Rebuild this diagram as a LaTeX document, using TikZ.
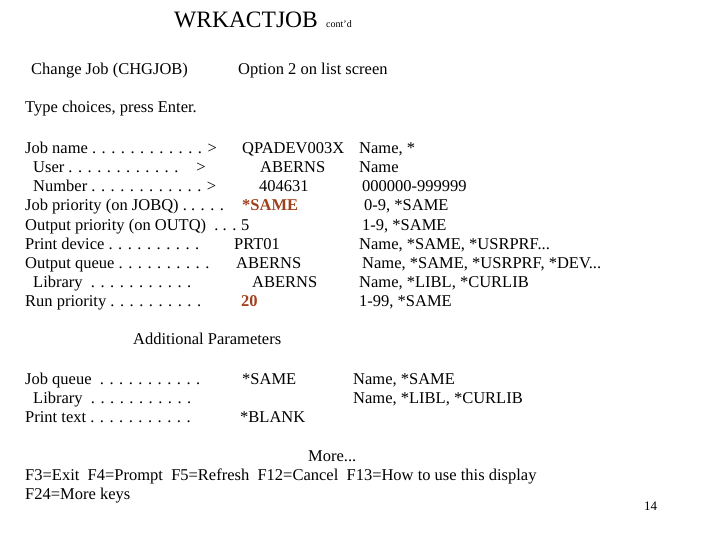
\documentclass[tikz,border=0pt]{standalone}
\usepackage{fontspec}
\setmainfont{Liberation Serif}
\definecolor{hl}{HTML}{A0401C}
\begin{document}
\begin{tikzpicture}[x=1pt,y=-1pt,
  t/.style={anchor=base west,inner sep=0pt,font=\fontsize{16.5}{18}\selectfont},
  h/.style={t,text=hl,font=\fontsize{16.5}{18}\selectfont\bfseries}]
\useasboundingbox (0,0) rectangle (720,540);
\node[t,font=\fontsize{23.5}{26}\selectfont] (title) at (174,28) {WRKACTJOB};
\node[t,font=\fontsize{10}{11}\selectfont] (cont) at (326,28) {cont'd};
\node[t] (a1) at (31,75) {Change Job (CHGJOB)};
\node[t] (a2) at (238,75) {Option 2 on list screen};
\node[t] (a3) at (25,113) {Type choices, press Enter.};
% column 1
\node[t] (l1) at (25,154) {Job name . . . . . . . . . . . . >};
\node[t] (l2) at (33,173) {User . . . . . . . . . . . . \ \ \ >};
\node[t] (l3) at (33,192) {Number . . . . . . . . . . . . >};
\node[t] (l4) at (25,211) {Job priority (on JOBQ) . . . . .};
\node[t] (l5) at (25,230) {Output priority (on OUTQ) \ . . .};
\node[t] (l6) at (25,249) {Print device . . . . . . . . . .};
\node[t] (l7) at (25,268) {Output queue . . . . . . . . . .};
\node[t] (l8) at (33,287) {Library \ . . . . . . . . . . .};
\node[t] (l9) at (25,306) {Run priority . . . . . . . . . .};
% column 2
\node[t] (v1) at (242,154) {QPADEV003X};
\node[t] (v2) at (260,173) {ABERNS};
\node[t] (v3) at (259,192) {404631};
\node[h] (v4) at (242,211) {*SAME};
\node[t] (v5) at (241,230) {5};
\node[t] (v6) at (234,249) {PRT01};
\node[t] (v7) at (236,268) {ABERNS};
\node[t] (v8) at (252,287) {ABERNS};
\node[h] (v9) at (241,306) {20};
% column 3
\node[t] (c1) at (359,154) {Name, *};
\node[t] (c2) at (359,173) {Name};
\node[t] (c3) at (362,192) {000000-999999};
\node[t] (c4) at (364,211) {0-9, *SAME};
\node[t] (c5) at (362,230) {1-9, *SAME};
\node[t] (c6) at (359,249) {Name, *SAME, *USRPRF...};
\node[t] (c7) at (362,268) {Name, *SAME, *USRPRF, *DEV...};
\node[t] (c8) at (359,287) {Name, *LIBL, *CURLIB};
\node[t] (c9) at (359,306) {1-99, *SAME};
\node[t] (ap) at (133,344) {Additional Parameters};
\node[t] (b1) at (25,384) {Job queue \ . . . . . . . . . . .};
\node[t] (b2) at (33,403) {Library \ . . . . . . . . . . .};
\node[t] (b3) at (25,422) {Print text . . . . . . . . . . .};
\node[t] (bv1) at (242,384) {*SAME};
\node[t] (bv3) at (240,422) {*BLANK};
\node[t] (bc1) at (353,384) {Name, *SAME};
\node[t] (bc2) at (353,403) {Name, *LIBL, *CURLIB};
\node[t] (more) at (308,461) {More...};
\node[t] (k1) at (25,480) {F3=Exit \ F4=Prompt \ F5=Refresh \ F12=Cancel \ F13=How to use this display};
\node[t] (k2) at (25,499) {F24=More keys};
\node[t,font=\fontsize{13}{15}\selectfont] (pg) at (644,510) {14};
\end{tikzpicture}
\end{document}
